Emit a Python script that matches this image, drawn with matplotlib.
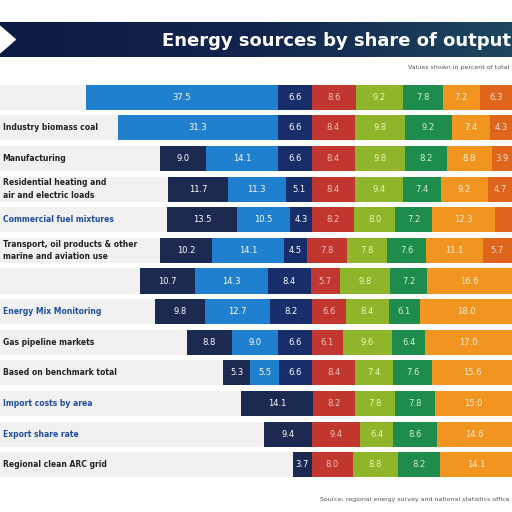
import matplotlib.pyplot as plt
import numpy as np
from matplotlib.patches import Polygon

# Row labels (top to bottom)
labels = [
    '',
    'Industry biomass coal',
    'Manufacturing',
    'Residential heating and\nair and electric loads',
    'Commercial fuel mixtures',
    'Transport, oil products & other\nmarine and aviation use',
    '',
    'Energy Mix Monitoring',
    'Gas pipeline markets',
    'Based on benchmark total',
    'Import costs by area',
    'Export share rate',
    'Regional clean ARC grid',
]
label_blue = [False, False, False, False, True, False, False, True, False, False, True, True, False]

segment_names = ['Coal', 'Hydro', 'Nuclear', 'Oil', 'Wind', 'Gas', 'Solar', 'Other']
# share of each segment per row (percent of chart width)
lead_navy = [0, 0, 9.0, 11.7, 13.5, 10.2, 10.7, 9.8, 8.8, 5.3, 14.1, 9.4, 3.7]
blue      = [37.5, 31.3, 14.1, 11.3, 10.5, 14.1, 14.3, 12.7, 9.0, 5.5, 0, 0, 0]
navy      = [6.6, 6.6, 6.6, 5.1, 4.3, 4.5, 8.4, 8.2, 6.6, 6.6, 0, 0, 0]
red       = [8.6, 8.4, 8.4, 8.4, 8.2, 7.8, 5.7, 6.6, 6.1, 8.4, 8.2, 9.4, 8.0]
ygreen    = [9.2, 9.8, 9.8, 9.4, 8.0, 7.8, 9.8, 8.4, 9.6, 7.4, 7.8, 6.4, 8.8]
green     = [7.8, 9.2, 8.2, 7.4, 7.2, 7.6, 7.2, 6.1, 6.4, 7.6, 7.8, 8.6, 8.2]
orange    = [7.2, 7.4, 8.8, 9.2, 12.3, 11.1, 16.6, 18.0, 17.0, 15.6, 15.0, 14.6, 14.1]
dkorange  = [6.3, 4.3, 3.9, 4.7, 3.3, 5.7, 0, 0, 0, 0, 0, 0, 0]

title = 'Energy sources by share of output'
subtitle = 'Values shown in percent of total'
footer = 'Source: regional energy survey and national statistics office'

colors = ['#1c2a52', '#1f80d0', '#172e6b', '#c23630', '#8fb52a', '#1d8c4c', '#f19520', '#e0651c']
text_colors = ['white', 'white', 'white', '#f3c1bb', '#f0f3b0', '#d6f0c8', '#fff1d6', '#ffe0c8']

series = [lead_navy, blue, navy, red, ygreen, green, orange, dkorange]
data = np.array(series)
n = data.shape[1]
totals = data.sum(axis=0)
lefts = 100 - totals

fig = plt.figure(figsize=(5.12, 5.12), dpi=100)
fig.patch.set_facecolor('white')

# banner
bax = fig.add_axes([0, 1 - 57 / 512, 1, 35 / 512])
grad = np.linspace(0, 1, 256).reshape(1, -1)
bax.imshow(grad, aspect='auto', cmap=plt.matplotlib.colors.LinearSegmentedColormap.from_list(
    'b', ['#0e1c44', '#12244e', '#1d4660']), extent=[0, 1, 0, 1])
bax.add_patch(Polygon([[0, 0.12], [0.03, 0.5], [0, 0.88]], closed=True, color='white'))
bax.set_xlim(0, 1)
bax.set_ylim(0, 1)
bax.axis('off')
bax.text(0.998, 0.45, title, color='white', fontsize=13, fontweight='bold',
         ha='right', va='center')

fig.text(0.995, 1 - 67 / 512, subtitle, fontsize=4.5, color='#555555', ha='right', va='center')
fig.text(0.995, 1 - 500 / 512, footer, fontsize=4.5, color='#555555', ha='right', va='center')

ax = fig.add_axes([0, 1 - 480 / 512, 1, 398 / 512])
y = np.arange(n)
ax.barh(y, [100] * n, height=0.82, color='#f1f1f1', zorder=0)
left = lefts.copy()
for k, vals in enumerate(series):
    vals = np.array(vals)
    ax.barh(y, vals, left=left, height=0.82, color=colors[k], zorder=2)
    for i in range(n):
        if vals[i] >= 3.5:
            ax.text(left[i] + vals[i] / 2, y[i], f'{vals[i]:.1f}', color=text_colors[k],
                    fontsize=6, ha='center', va='center', zorder=3)
    left = left + vals

for i, lab in enumerate(labels):
    ax.text(0.5, y[i], lab, fontsize=5.5, fontweight='bold', ha='left', va='center',
            color='#1f4ea0' if label_blue[i] else '#222222', zorder=3, linespacing=1.5)

ax.set_xlim(0, 100)
ax.set_ylim(n - 0.5, -0.5)
ax.axis('off')

plt.savefig('out.png', dpi=100)
